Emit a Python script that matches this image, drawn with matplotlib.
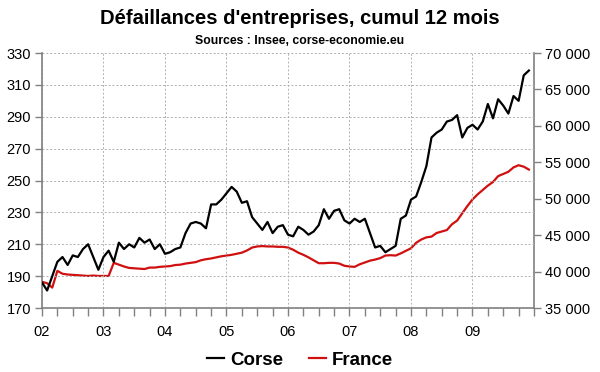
import matplotlib
matplotlib.use("Agg")
import matplotlib.pyplot as plt
from matplotlib.ticker import FixedLocator, FuncFormatter
import numpy as np

plt.rcParams['font.family'] = ['Liberation Sans', 'DejaVu Sans']

title = "Défaillances d'entreprises, cumul 12 mois"
subtitle = "Sources : Insee, corse-economie.eu"
year_labels = ['02', '03', '04', '05', '06', '07', '08', '09']

# Monthly values, Jan 2002 -> Dec 2009
corse = [186, 181, 190, 199, 202, 197, 203, 202, 207, 210, 202, 194,
         202, 206, 199, 211, 207, 210, 208, 214, 211, 213, 207, 210,
         204, 205, 207, 208, 217, 223, 224, 223, 220, 235, 235, 238,
         242, 246, 243, 236, 237, 227, 223, 219, 224, 217, 221, 222,
         216, 215, 221, 219, 216, 218, 222, 232, 226, 231, 232, 225,
         223, 226, 224, 226, 217, 208, 209, 205, 207, 209, 226, 228,
         238, 240, 249, 259, 277, 280, 282, 287, 288, 291, 277, 283,
         285, 282, 287, 298, 289, 301, 297, 292, 303, 300, 316, 319]

france = [38600, 38400, 37800, 40100, 39700, 39600, 39550, 39500, 39450, 39400, 39450, 39400,
          39400, 39400, 41200, 40950, 40700, 40500, 40450, 40400, 40350, 40550, 40550, 40650,
          40700, 40750, 40900, 40950, 41100, 41200, 41300, 41550, 41700, 41800, 41950, 42100,
          42200, 42300, 42450, 42600, 42900, 43300, 43450, 43500, 43450, 43450, 43400, 43400,
          43300, 43000, 42600, 42300, 41950, 41550, 41150, 41150, 41200, 41200, 41100, 40800,
          40700, 40650, 41000, 41250, 41500, 41650, 41850, 42200, 42250, 42200, 42500, 42850,
          43200, 43950, 44400, 44700, 44800, 45300, 45500, 45700, 46500, 47000, 48000, 49000,
          49900, 50600, 51200, 51800, 52300, 53100, 53400, 53700, 54300, 54600, 54400, 54000]

x = np.arange(len(corse))

fig = plt.figure(figsize=(6.0, 3.72), dpi=100)
ax = fig.add_axes([0.07, 0.172, 0.82, 0.6855])
ax2 = ax.twinx()

axis_col = '#808080'
grid_col = '#b0b0b0'

ax.set_xlim(0, 96)
ax.set_ylim(170, 330)
ax2.set_ylim(35000, 70000)

ax.set_yticks(np.arange(170, 331, 20))
ax2.set_yticks(np.arange(35000, 70001, 5000))
ax2.yaxis.set_major_formatter(FuncFormatter(lambda v, p: f"{int(v):,}".replace(',', ' ')))

ax.xaxis.set_major_locator(FixedLocator(np.arange(0, 97, 12)))
ax.xaxis.set_minor_locator(FixedLocator(np.arange(0, 97, 3)))
ax.set_xticklabels(year_labels + [''])

for a in (ax, ax2):
    for s in a.spines.values():
        s.set_visible(False)
ax.spines['left'].set_visible(True)
ax.spines['bottom'].set_visible(True)
ax2.spines['right'].set_visible(True)
for s in (ax.spines['left'], ax.spines['bottom'], ax2.spines['right']):
    s.set_color(axis_col)
    s.set_linewidth(1.2)

ax.tick_params(axis='both', which='both', direction='out', color=axis_col,
               labelsize=10.5, width=1)
ax.tick_params(axis='x', which='major', length=6, pad=6)
ax.tick_params(axis='x', which='minor', length=6)
ax.tick_params(axis='y', length=5, pad=3)
ax2.tick_params(axis='y', length=5, pad=3, color=axis_col, labelsize=10.5, width=1)

ax.grid(True, which='major', axis='both', color=grid_col, linestyle=(0, (2, 2)), linewidth=0.7)
ax.set_axisbelow(True)

l1, = ax.plot(x, corse, color='black', linewidth=1.6, label='Corse', zorder=4)
l2, = ax2.plot(x, france, color='#d01010', linewidth=1.6, label='France', zorder=3)
ax.set_zorder(ax2.get_zorder() + 1)
ax.patch.set_visible(False)

fig.text(0.5, 0.951, title, ha='center', va='center', fontsize=14.5, fontweight='bold')
fig.text(0.5, 0.889, subtitle, ha='center', va='center', fontsize=8.8, fontweight='bold')

fig.legend([l1, l2], ['Corse', 'France'], loc='center', bbox_to_anchor=(0.5, 0.032),
           ncol=2, frameon=False, handlelength=0.9, handletextpad=0.3, columnspacing=1.4,
           prop={'weight': 'bold', 'size': 13.5})

fig.savefig('out.png', dpi=100)
